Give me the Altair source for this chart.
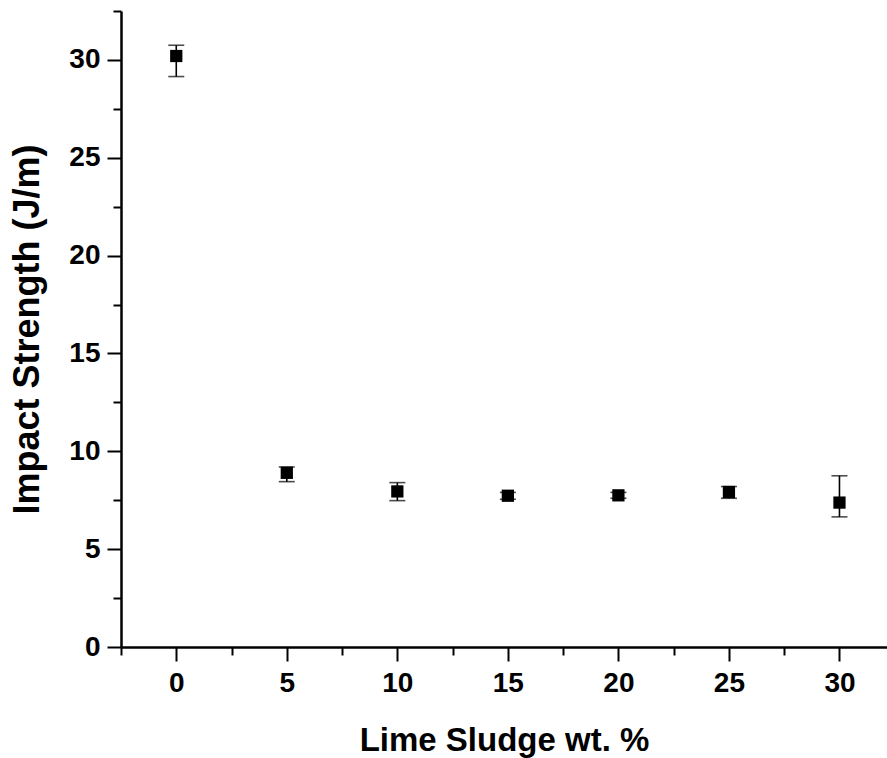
import altair as alt
import pandas as pd

lime = [0, 5, 10, 15, 20, 25, 30]
strength = [30.2, 8.9, 7.95, 7.73, 7.75, 7.92, 7.38]
err_low = [29.15, 8.45, 7.48, 7.55, 7.6, 7.6, 6.65]
err_high = [30.75, 9.2, 8.4, 7.9, 7.9, 8.2, 8.75]

x_ticks = [-2.5, 0, 2.5, 5, 7.5, 10, 12.5, 15, 17.5, 20, 22.5, 25, 27.5, 30]
y_ticks = [0, 2.5, 5, 7.5, 10, 12.5, 15, 17.5, 20, 22.5, 25, 27.5, 30, 32.5]

df = pd.DataFrame({"x": lime, "y": strength, "lo": err_low, "hi": err_high})

FONT = "Liberation Sans"
major_test = "datum.value % 5 === 0"

x_enc = alt.X(
    "x:Q",
    scale=alt.Scale(domain=[-2.5, 32.15], nice=False, zero=False),
    axis=alt.Axis(
        title="Lime Sludge wt. %",
        values=x_ticks,
        labelExpr="datum.value % 5 === 0 && datum.value >= 0 ? datum.label : ''",
        tickSize={"condition": {"test": major_test, "value": 14}, "value": 8},
        labelPadding=8,
        titlePadding=27,
        titleFontSize=33,
    ),
)
y_enc = alt.Y(
    "y:Q",
    scale=alt.Scale(domain=[0, 32.5], nice=False, zero=True),
    axis=alt.Axis(
        title="Impact Strength (J/m)",
        values=y_ticks,
        labelExpr="datum.value % 5 === 0 ? datum.label : ''",
        tickSize={"condition": {"test": major_test, "value": 14}, "value": 8},
        labelPadding=7,
        titlePadding=22,
        titleFontSize=36,
    ),
)

base = alt.Chart(df)

rules = base.mark_rule(color="black", strokeWidth=1.6).encode(
    x=x_enc, y=alt.Y("lo:Q", scale=alt.Scale(domain=[0, 32.5], nice=False)), y2="hi:Q"
)
cap_lo = base.mark_tick(color="black", orient="horizontal", size=16, thickness=1.6).encode(
    x="x:Q", y="lo:Q"
)
cap_hi = base.mark_tick(color="black", orient="horizontal", size=16, thickness=1.6).encode(
    x="x:Q", y="hi:Q"
)
points = base.mark_square(color="black", filled=True, size=150, opacity=1).encode(
    x=x_enc, y=y_enc
)

chart = (
    alt.layer(rules, cap_lo, cap_hi, points)
    .properties(
        width=766,
        height=636,
        autosize=alt.AutoSizeParams(type="none"),
        padding={"left": 121, "top": 11, "right": 0, "bottom": 111},
        background="white",
    )
    .configure_view(stroke=None)
    .configure_axis(
        grid=False,
        domainColor="black",
        domainWidth=2.5,
        tickColor="black",
        tickWidth=2,
        labelFont=FONT,
        labelFontSize=28,
        labelFontWeight="bold",
        labelColor="black",
        titleFont=FONT,
        titleFontWeight="bold",
        titleColor="black",
    )
)

chart.save("out.html", embed_options={"renderer": "svg", "actions": False})
